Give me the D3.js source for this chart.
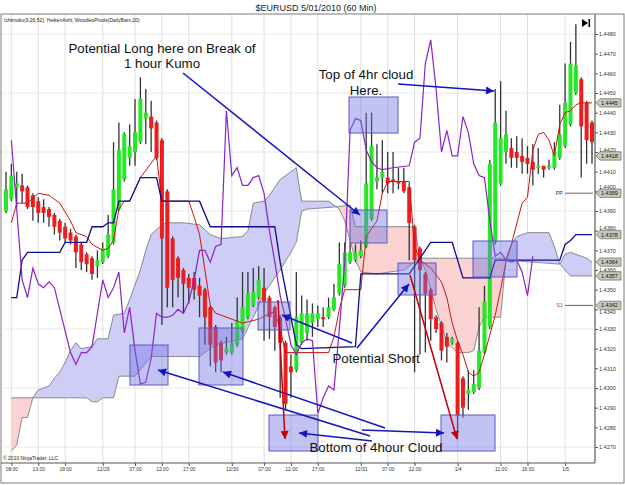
<!DOCTYPE html>
<html>
<head>
<meta charset="utf-8">
<script src="https://cdn.jsdelivr.net/npm/d3@7"></script>
<style>
body{margin:0;background:#fff;}
svg{display:block;font-family:"Liberation Sans",Arial,sans-serif;}
</style>
</head>
<body>
<svg id="chart"></svg>
<script>
// heiken ashi bars: open, high, low, close
var bars=[
[1.4390,1.4410,1.4389,1.4401],[1.4396,1.4414,1.4395,1.4408],[1.4402,1.4410,1.4392,1.4404],[1.4403,1.4409,1.4394,1.4400],
[1.4402,1.4403,1.4391,1.4392],[1.4398,1.4399,1.4385,1.4392],[1.4395,1.4397,1.4384,1.4389],[1.4392,1.4396,1.4384,1.4389],
[1.4391,1.4392,1.4382,1.4387],[1.4388,1.4389,1.4378,1.4382],[1.4385,1.4386,1.4375,1.4379],[1.4382,1.4384,1.4374,1.4376],
[1.4379,1.4381,1.4373,1.4375],[1.4377,1.4378,1.4361,1.4369],[1.4373,1.4374,1.4360,1.4364],[1.4368,1.4369,1.4359,1.4363],
[1.4366,1.4367,1.4355,1.4358],[1.4362,1.4370,1.4356,1.4365],[1.4364,1.4374,1.4363,1.4371],[1.4367,1.4388,1.4366,1.4378],
[1.4374,1.4425,1.4373,1.4401],[1.4391,1.4435,1.4390,1.4421],[1.4406,1.4430,1.4405,1.4429],[1.4417,1.4434,1.4413,1.4423],
[1.4420,1.4447,1.4413,1.4430],[1.4425,1.4458,1.4424,1.4447],[1.4437,1.4452,1.4424,1.4440],[1.4438,1.4446,1.4420,1.4432],
[1.4435,1.4436,1.4416,1.4417],[1.4426,1.4427,1.4332,1.4376],[1.4400,1.4401,1.4341,1.4351],[1.4376,1.4377,1.4341,1.4355],
[1.4366,1.4367,1.4346,1.4356],[1.4360,1.4361,1.4338,1.4353],[1.4356,1.4358,1.4343,1.4351],[1.4356,1.4359,1.4345,1.4350],
[1.4352,1.4356,1.4336,1.4347],[1.4350,1.4351,1.4322,1.4336],[1.4341,1.4342,1.4311,1.4322],[1.4331,1.4332,1.4308,1.4313],
[1.4323,1.4324,1.4308,1.4314],[1.4318,1.4326,1.4317,1.4320],[1.4318,1.4333,1.4317,1.4323],[1.4322,1.4346,1.4321,1.4334],
[1.4329,1.4359,1.4328,1.4341],[1.4336,1.4359,1.4335,1.4348],[1.4342,1.4361,1.4341,1.4349],[1.4346,1.4362,1.4345,1.4355],
[1.4351,1.4361,1.4324,1.4344],[1.4346,1.4347,1.4325,1.4336],[1.4341,1.4342,1.4319,1.4331],[1.4336,1.4337,1.4295,1.4323],
[1.4323,1.4324,1.4289,1.4292],[1.4311,1.4317,1.4295,1.4308],[1.4309,1.4359,1.4308,1.4336],[1.4323,1.4347,1.4322,1.4338],
[1.4328,1.4345,1.4324,1.4338],[1.4333,1.4343,1.4326,1.4338],[1.4335,1.4342,1.4331,1.4338],[1.4336,1.4341,1.4331,1.4335],
[1.4336,1.4346,1.4335,1.4341],[1.4340,1.4353,1.4339,1.4346],[1.4348,1.4374,1.4347,1.4363],[1.4352,1.4374,1.4351,1.4369],
[1.4364,1.4374,1.4363,1.4369],[1.4365,1.4373,1.4364,1.4369],[1.4367,1.4375,1.4366,1.4370],[1.4372,1.4440,1.4371,1.4404],
[1.4386,1.4440,1.4385,1.4423],[1.4405,1.4424,1.4401,1.4407],[1.4407,1.4426,1.4399,1.4410],[1.4407,1.4420,1.4399,1.4404],
[1.4406,1.4420,1.4399,1.4405],[1.4405,1.4412,1.4401,1.4404],[1.4405,1.4412,1.4399,1.4400],[1.4402,1.4404,1.4365,1.4384],
[1.4382,1.4383,1.4308,1.4365],[1.4371,1.4372,1.4317,1.4360],[1.4358,1.4359,1.4318,1.4348],[1.4350,1.4351,1.4324,1.4335],
[1.4336,1.4337,1.4328,1.4330],[1.4333,1.4334,1.4314,1.4319],[1.4326,1.4328,1.4313,1.4321],[1.4323,1.4326,1.4322,1.4325],
[1.4323,1.4324,1.4274,1.4286],[1.4305,1.4306,1.4285,1.4290],[1.4297,1.4309,1.4289,1.4299],[1.4298,1.4309,1.4297,1.4302],
[1.4300,1.4341,1.4299,1.4319],[1.4318,1.4352,1.4317,1.4344],[1.4331,1.4416,1.4330,1.4414],[1.4374,1.4452,1.4373,1.4435],
[1.4404,1.4456,1.4403,1.4427],[1.4420,1.4441,1.4414,1.4429],[1.4422,1.4427,1.4412,1.4417],[1.4420,1.4428,1.4412,1.4417],
[1.4418,1.4427,1.4409,1.4415],[1.4417,1.4423,1.4409,1.4414],[1.4415,1.4424,1.4403,1.4411],[1.4412,1.4422,1.4409,1.4413],
[1.4413,1.4413,1.4407,1.4411],[1.4412,1.4416,1.4411,1.4413],[1.4412,1.4425,1.4411,1.4420],[1.4417,1.4444,1.4416,1.4429],
[1.4423,1.4465,1.4422,1.4445],[1.4434,1.4476,1.4433,1.4465],[1.4450,1.4485,1.4449,1.4464],[1.4457,1.4458,1.4407,1.4433],
[1.4445,1.4446,1.4414,1.4426],[1.4435,1.4436,1.4414,1.4425]];

// ichimoku lines as [bar, price]
var tenkan=[[1,1.4384],[2,1.4394],[4,1.4394],[6,1.4399],[8,1.4398],[10,1.4394],[12,1.4385],[13,1.4379],[15,1.4377],[16,1.4373],[18,1.4370],[19,1.4371],[20,1.4375],[21,1.4391],[22,1.4395],[23,1.4395],[25,1.4407],[28,1.4418],[29,1.4395],[34,1.4395],[35,1.4387],[36,1.4378],[37,1.4360],[38,1.4342],[39,1.4338],[41,1.4336],[44,1.4333],[47,1.4335],[50,1.4339],[51,1.4330],[52,1.4318],[60,1.4318],[61,1.4326],[62,1.4340],[63,1.4350],[66,1.4350],[67,1.4377],[69,1.4385],[70,1.4399],[71,1.4405],[75,1.4405],[76,1.4372],[77,1.4365],[79,1.4361],[81,1.4354],[82,1.4346],[83,1.4333],[84,1.4324],[85,1.4317],[86,1.4308],[87,1.4306],[88,1.4308],[89,1.4317],[90,1.4327],[91,1.4337],[92,1.4350],[93,1.4364],[94,1.4373],[96,1.4394],[97,1.4397],[98,1.4421],[99,1.4429],[100,1.4430],[101,1.4426],[102,1.4418],[103,1.4434],[104,1.4440],[105,1.4441],[106,1.4444],[107,1.4445],[109,1.4445]];
var kijun=[[1,1.4346],[2,1.4346],[3,1.4365],[4,1.4369],[10,1.4369],[11,1.4374],[15,1.4374],[16,1.4382],[18,1.4382],[19,1.4384],[20,1.4384],[21,1.4395],[23,1.4395],[25,1.4407],[28,1.4407],[29,1.4395],[36,1.4395],[38,1.4382],[50,1.4382],[51,1.4364],[53,1.4336],[54,1.4322],[55,1.4320],[65,1.4321],[66,1.4358],[75,1.4358],[79,1.4374],[83,1.4374],[85,1.4356],[90,1.4356],[91,1.4365],[103,1.4365],[104,1.4373],[105,1.4375],[106,1.4378],[109,1.4378]];
var chikou=[[1,1.4426],[3,1.4355],[4,1.4346],[5,1.4361],[6,1.4353],[7,1.4351],[8,1.4354],[9,1.4351],[10,1.4340],[11,1.4329],[12,1.4318],[13,1.4312],[14,1.4318],[15,1.4318],[16,1.4321],[17,1.4338],[18,1.4355],[19,1.4346],[20,1.4351],[21,1.4359],[22,1.4328],[23,1.4341],[24,1.4319],[25,1.4302],[26,1.4303],[27,1.4315],[28,1.4338],[29,1.4336],[30,1.4336],[31,1.4337],[32,1.4340],[33,1.4338],[34,1.4344],[35,1.4355],[36,1.4370],[37,1.4370],[38,1.4364],[39,1.4372],[40,1.4373],[41,1.4441],[42,1.4408],[43,1.4412],[44,1.4403],[45,1.4403],[46,1.4407],[47,1.4408],[48,1.4399],[49,1.4380],[50,1.4364],[51,1.4347],[52,1.4335],[53,1.4322],[54,1.4317],[55,1.4323],[56,1.4325],[57,1.4324],[58,1.4287],[59,1.4295],[60,1.4301],[61,1.4299],[62,1.4330],[63,1.4364],[64,1.4431],[65,1.4437],[66,1.4436],[67,1.4421],[68,1.4415],[69,1.4412],[70,1.4411],[72,1.4412],[75,1.4413],[76,1.4425],[77,1.4427],[78,1.4465],[79,1.4477],[80,1.4452],[81,1.4420],[82,1.4431],[83,1.4418],[84,1.4418],[85,1.4438],[86,1.4430],[87,1.4414],[88,1.4408],[89,1.4407],[90,1.4385],[91,1.4367],[92,1.4369],[93,1.4365],[94,1.4364],[95,1.4365],[96,1.4359],[97,1.4347],[98,1.4367]];
var senkouA=[[1,1.4268],[2,1.4271],[3,1.4285],[4,1.4285],[5,1.4295],[6,1.4299],[8,1.4301],[9,1.4305],[10,1.4308],[11,1.4313],[12,1.4319],[13,1.4323],[14,1.4320],[16,1.4321],[17,1.4325],[19,1.4325],[20,1.4337],[22,1.4338],[23,1.4345],[25,1.4360],[26,1.4370],[27,1.4378],[29,1.4383],[30,1.4384],[33,1.4384],[36,1.4383],[38,1.4378],[40,1.4376],[44,1.4377],[45,1.4380],[46,1.4394],[48,1.4395],[49,1.4398],[50,1.4402],[51,1.4406],[52,1.4408],[53,1.4410],[54,1.4412],[55,1.4395],[60,1.4395],[61,1.4393],[62,1.4391],[63,1.4385],[64,1.4375],[65,1.4365],[66,1.4359],[69,1.4358],[74,1.4360],[76,1.4364],[77,1.4366],[78,1.4360],[79,1.4350],[80,1.4340],[82,1.4323],[84,1.4318],[86,1.4318],[87,1.4319],[88,1.4331],[89,1.4336],[92,1.4336],[93,1.4366],[94,1.4373],[95,1.4377],[97,1.4379],[101,1.4379],[102,1.4372],[103,1.4363],[104,1.4368],[105,1.4369],[107,1.4367],[108,1.4366],[109,1.4364]];
var senkouB=[[1,1.4295],[15,1.4295],[16,1.4293],[17,1.4293],[18,1.4295],[20,1.4295],[21,1.4306],[24,1.4306],[27,1.4316],[36,1.4316],[39,1.4322],[44,1.4325],[46,1.4336],[48,1.4348],[51,1.4360],[53,1.4369],[54,1.4374],[55,1.4390],[56,1.4391],[61,1.4392],[64,1.4393],[65,1.4382],[76,1.4382],[77,1.4366],[92,1.4366],[93,1.4365],[103,1.4363],[104,1.4360],[105,1.4357],[109,1.4357]];

var timeTicks=[1,6,11,18,24,29,34,42,48,53,58,66,71,76,84,92,97,104];
var timeLabels=["08:00","13:00","18:00","12/29","07:00","12:00","17:00","12/30","07:00","12:00","17:00","12/31","07:00","12:00","1/4","11:00","16:00","1/5"];
var lastPrice=1.4418;
var pivots=[{name:"PP",value:1.4399,color:"#9a9a9a"},{name:"S1",value:1.4342,color:"#a04848"}];

// drawing objects, in pixels
var boxes=[[130,345,168,385],[199,328,243,385],[258,302,290,330],[269,415,318,451],[349,97,398,133],[350,210,387,243],[398,263,436,295],[441,415,495,451],[473,241,517,277]];
var blueArrows=[[183,73,360,215],[398,84,494,91],[352,343,282,315],[357,348,409,284],[370,436,158,370],[385,428,223,372],[372,441,299,433],[362,430,444,433]];
var redArrows=[[278,300,285,439],[410,275,457,439]];
var notes=[
  {t:"Potential Long here on Break of",x:162,y:53},
  {t:"1 hour Kumo",x:162,y:68},
  {t:"Top of 4hr cloud",x:366,y:79},
  {t:"Here.",x:366,y:95},
  {t:"Potential Short",x:376,y:363},
  {t:"Bottom of 4hour Cloud",x:376,y:452}];

var W=625,H=485;
var plotL=2,plotR=595,plotT=14,plotB=463;

var svg=d3.select("#chart").attr("width",W).attr("height",H);
var x=d3.scaleLinear().domain([0,bars.length-1]).range([6,592]);
var y=d3.scaleLinear().domain([1.4270,1.4480]).range([447,34]);

svg.append("rect").attr("width",W).attr("height",H).attr("fill","#fff");

var defs=svg.append("defs");
defs.append("clipPath").attr("id","plot").append("rect")
  .attr("x",plotL).attr("y",plotT).attr("width",plotR-plotL).attr("height",plotB-plotT);

function marker(id,color){
  defs.append("marker").attr("id",id)
    .attr("viewBox","0 0 10 10").attr("refX",10).attr("refY",5)
    .attr("markerUnits","userSpaceOnUse").attr("markerWidth",9).attr("markerHeight",8)
    .attr("orient","auto")
    .append("path").attr("d","M0,0L10,5L0,10z").attr("fill",color);
}
marker("headBlue","#1414c0");
marker("headRed","#c40000");

// grid
var grid=svg.append("g");
grid.selectAll("line.v").data(timeTicks).enter().append("line")
  .attr("x1",function(d){return x(d);}).attr("x2",function(d){return x(d);})
  .attr("y1",plotT).attr("y2",plotB)
  .attr("stroke","#dedede").attr("stroke-width",1);
grid.selectAll("line.h").data(d3.range(0,8)).enter().append("line")
  .attr("x1",plotL).attr("x2",plotR)
  .attr("y1",function(d){return y(1.4270+d*0.003);}).attr("y2",function(d){return y(1.4270+d*0.003);})
  .attr("stroke","#e8e8e8").attr("stroke-width",1);

var line=d3.line().x(function(d){return x(d[0]);}).y(function(d){return y(d[1]);});
var chart=svg.append("g").attr("clip-path","url(#plot)");

// cloud: fill between the spans, colour split by which span is on top
function aboveClip(id,span){
  var pts=span.map(function(d){return [x(d[0]),y(d[1])];});
  pts.push([x(span[span.length-1][0]),0]);
  pts.push([x(span[0][0]),0]);
  defs.append("clipPath").attr("id",id).append("path").attr("d",d3.line()(pts)+"Z");
}
aboveClip("aboveA",senkouA);
aboveClip("aboveB",senkouB);
var between=line(senkouA.concat(senkouB.slice().reverse()))+"Z";
chart.append("g").attr("clip-path","url(#aboveB)").append("path")
  .attr("d",between).attr("fill","#cdcdf6");
chart.append("g").attr("clip-path","url(#aboveA)").append("path")
  .attr("d",between).attr("fill","#fad2d2");
[senkouA,senkouB].forEach(function(s){
  chart.append("path").attr("d",line(s)).attr("fill","none")
    .attr("stroke","#6e6e7a").attr("stroke-width",0.8);
});

// candles
var candle=chart.selectAll("g.bar").data(bars).enter().append("g");
candle.append("line")
  .attr("x1",function(d,i){return x(i);}).attr("x2",function(d,i){return x(i);})
  .attr("y1",function(d){return y(d[1]);}).attr("y2",function(d){return y(d[2]);})
  .attr("stroke","#333").attr("stroke-width",1.3);
candle.append("rect")
  .attr("x",function(d,i){return x(i)-2;})
  .attr("width",4)
  .attr("y",function(d){return y(Math.max(d[0],d[3]));})
  .attr("height",function(d){return Math.max(1.2,Math.abs(y(d[0])-y(d[3])));})
  .attr("fill",function(d){return d[3]>=d[0]?"#24e824":"#ee1d1d";});

// indicator lines
chart.append("path").attr("d",line(tenkan)).attr("fill","none").attr("stroke","#c81414").attr("stroke-width",1);
chart.append("path").attr("d",line(kijun)).attr("fill","none").attr("stroke","#0c0c8e").attr("stroke-width",1.3);
chart.append("path").attr("d",line(chikou)).attr("fill","none").attr("stroke","#8a22c8").attr("stroke-width",1.2);

// pivots
pivots.forEach(function(p){
  svg.append("line").attr("x1",565).attr("x2",593)
    .attr("y1",y(p.value)).attr("y2",y(p.value))
    .attr("stroke",p.color).attr("stroke-width",p.name=="PP"?1.6:1);
  svg.append("text").attr("x",563).attr("y",y(p.value)+2)
    .attr("text-anchor","end").attr("font-size",5.5)
    .attr("fill",p.name=="PP"?"#333":p.color).text(p.name);
});

// drawing objects
svg.selectAll("rect.box").data(boxes).enter().append("rect")
  .attr("x",function(d){return d[0];}).attr("y",function(d){return d[1];})
  .attr("width",function(d){return d[2]-d[0];}).attr("height",function(d){return d[3]-d[1];})
  .attr("fill","rgba(112,112,226,0.42)").attr("stroke","#5a5ac4").attr("stroke-width",1);
svg.selectAll("line.ba").data(blueArrows).enter().append("line")
  .attr("x1",function(d){return d[0];}).attr("y1",function(d){return d[1];})
  .attr("x2",function(d){return d[2];}).attr("y2",function(d){return d[3];})
  .attr("stroke","#1414c0").attr("stroke-width",1.5).attr("marker-end","url(#headBlue)");
svg.selectAll("line.ra").data(redArrows).enter().append("line")
  .attr("x1",function(d){return d[0];}).attr("y1",function(d){return d[1];})
  .attr("x2",function(d){return d[2];}).attr("y2",function(d){return d[3];})
  .attr("stroke","#c40000").attr("stroke-width",1.5).attr("marker-end","url(#headRed)");
svg.selectAll("text.note").data(notes).enter().append("text")
  .attr("x",function(d){return d.x;}).attr("y",function(d){return d.y;})
  .attr("text-anchor","middle").attr("font-size",13.3).attr("fill","#111")
  .text(function(d){return d.t;});

// frame and axes
svg.append("rect").attr("x",1).attr("y",plotT).attr("width",W-2).attr("height",H-plotT-2)
  .attr("fill","none").attr("stroke","#7a7a7a").attr("stroke-width",1);
svg.append("line").attr("x1",plotR).attr("x2",plotR).attr("y1",plotT).attr("y2",plotB)
  .attr("stroke","#7a7a7a").attr("stroke-width",1.5);
svg.append("line").attr("x1",1).attr("x2",plotR).attr("y1",plotB).attr("y2",plotB)
  .attr("stroke","#555").attr("stroke-width",1.2);

// value tags on the price axis
var tags=[tenkan[tenkan.length-1][1],lastPrice,pivots[0].value,kijun[kijun.length-1][1],
  senkouA[senkouA.length-1][1],senkouB[senkouB.length-1][1],pivots[1].value];

var yAxis=svg.append("g").attr("transform","translate("+plotR+",0)")
  .call(d3.axisRight(y).tickValues(d3.range(0,22).map(function(i){return 1.4270+i*0.001;}))
    .tickFormat(d3.format(".4f")).tickSize(3).tickPadding(1));
yAxis.select(".domain").remove();
yAxis.selectAll("text").attr("font-size",5.5).attr("fill","#333").attr("font-family","Liberation Sans, Arial")
  .attr("y",function(d){
    // nudge a label off a value tag that sits on it
    var off=0;
    tags.forEach(function(t){
      var dy=y(d)-y(t);
      if(Math.abs(dy)<6.6) off=(dy>=0?1:-1)*(6.6-Math.abs(dy));
    });
    return off;
  });
yAxis.selectAll("line").attr("stroke","#555");

var xAxis=svg.append("g").attr("transform","translate(0,"+plotB+")")
  .call(d3.axisBottom(x).tickValues(timeTicks)
    .tickFormat(function(d,i){return timeLabels[i];}).tickSize(3).tickPadding(1));
xAxis.select(".domain").remove();
xAxis.selectAll("text").attr("font-size",5).attr("fill","#333").attr("font-family","Liberation Sans, Arial");
xAxis.selectAll("line").attr("stroke","#555");

var tag=svg.selectAll("g.tag").data(tags).enter().append("g")
  .attr("transform",function(d){return "translate("+plotR+","+y(d)+")";});
tag.append("path").attr("d","M1,0L5,-4.2L26,-4.2L26,4.2L5,4.2Z")
  .attr("fill","#c6c6bc").attr("stroke","#555").attr("stroke-width",0.6);
tag.append("text").attr("x",6).attr("y",2).attr("font-size",5.5).attr("fill","#111")
  .text(function(d){return d3.format(".4f")(d);});

// titles
svg.append("text").attr("x",316).attr("y",11).attr("text-anchor","middle")
  .attr("font-size",9).attr("fill","#222").text("$EURUSD  5/01/2010 (60 Min)");
svg.append("text").attr("x",4).attr("y",22).attr("font-size",5).attr("fill","#222")
  .text("Ichimoku(9,26,52), HeikenAshi, WoodiesPivots(DailyBars,20)");
svg.append("text").attr("x",3).attr("y",460).attr("font-size",5).attr("fill","#222")
  .text("\u00a9 2010 NinjaTrader, LLC");
svg.append("path").attr("d","M582,19L588,23L582,27Z").attr("fill","#000");
svg.append("rect").attr("x",588.5).attr("y",19).attr("width",1.6).attr("height",8).attr("fill","#000");
</script>
</body>
</html>
